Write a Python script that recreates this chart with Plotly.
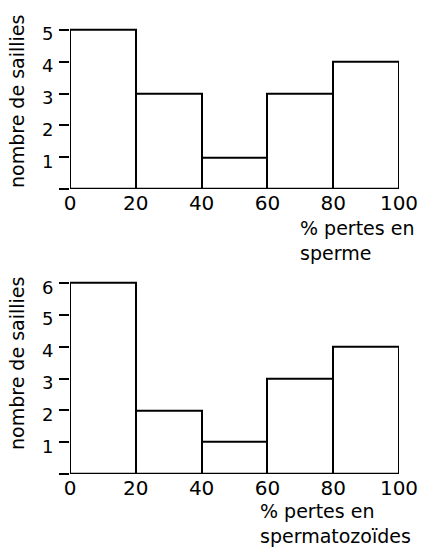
import plotly.graph_objects as go

bin_left = [0, 20, 40, 60, 80]
bin_width = [20, 20, 20, 20, 20]
sperme_counts = [5, 3, 1, 3, 4]
spz_counts = [6, 2, 1, 3, 4]
x_ticks = [0, 20, 40, 60, 80, 100]
y_ticks_top = [0, 1, 2, 3, 4, 5]
y_ticks_bottom = [0, 1, 2, 3, 4, 5, 6]

W, H = 421, 547
FONT = "DejaVu Sans"

fig = go.Figure()
centers = [l + w / 2 for l, w in zip(bin_left, bin_width)]
for counts, xa, ya in [(sperme_counts, "x", "y"), (spz_counts, "x2", "y2")]:
    fig.add_trace(go.Bar(
        x=centers, y=counts, width=bin_width, xaxis=xa, yaxis=ya,
        marker=dict(color="white", line=dict(color="black", width=2)),
        showlegend=False, hoverinfo="skip"))

x0, x1 = 70 / W, 399 / W
def ydom(base_px, rng_top, unit=31.8):
    top_px = base_px - rng_top * unit
    return [1 - base_px / H, 1 - top_px / H]

xcommon = dict(range=[0, 100], tickvals=x_ticks, showgrid=False, zeroline=False,
               showline=False, ticks="", ticklabelstandoff=0, automargin=False,
               tickfont=dict(family=FONT, size=20, color="black"), fixedrange=True)
ycommon = dict(showgrid=False, zeroline=False, showline=False, ticks="outside",
               ticklen=10, tickwidth=2, tickcolor="black", automargin=False,
               tickfont=dict(family=FONT, size=18, color="black"), fixedrange=True,
               ticklabelstandoff=2, ticklabelshift=4)

fig.update_layout(
    width=W, height=H, margin=dict(l=0, r=0, t=0, b=0, autoexpand=False),
    paper_bgcolor="white", plot_bgcolor="white", bargap=0,
    xaxis=dict(domain=[x0, x1], anchor="y", **xcommon),
    yaxis=dict(domain=ydom(189, 5.2), range=[0, 5.2], anchor="x",
               tickvals=y_ticks_top, ticktext=[""] + [str(v) for v in y_ticks_top[1:]],
               **ycommon),
    xaxis2=dict(domain=[x0, x1], anchor="y2", **xcommon),
    yaxis2=dict(domain=ydom(474, 6.2), range=[0, 6.2], anchor="x2",
                tickvals=y_ticks_bottom, ticktext=[""] + [str(v) for v in y_ticks_bottom[1:]],
                **ycommon),
)

tfont = dict(family=FONT, size=19, color="black")
for yc in (102, 364):
    fig.add_annotation(xref="paper", yref="paper", showarrow=False, font=tfont,
                       text="nombre de saillies", x=17 / W, y=1 - yc / H, textangle=-90,
                       xanchor="center", yanchor="middle")
for txt, xp, yp in [("% pertes en<br>sperme", 298, 215),
                    ("% pertes en<br>spermatozoïdes", 258, 498)]:
    fig.add_annotation(xref="paper", yref="paper", showarrow=False, font=tfont,
                       text=txt, x=xp / W, y=1 - yp / H, xanchor="left", yanchor="top",
                       align="left")

fig.write_html("out.html", config={"displayModeBar": False},
               post_script="document.body.style.margin='0';document.body.style.overflow='hidden';")
